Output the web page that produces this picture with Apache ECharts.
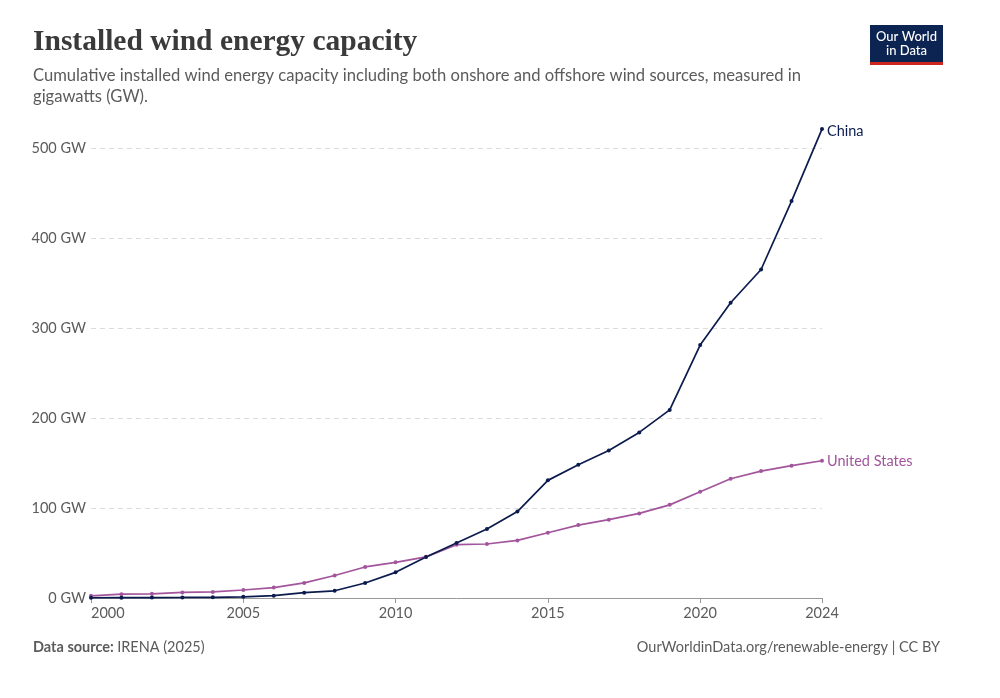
<!DOCTYPE html>
<html>
<head>
<meta charset="utf-8">
<script src="https://cdn.jsdelivr.net/npm/echarts@6/dist/echarts.min.js"></script>
<style>
html,body{margin:0;padding:0;background:#fff;}
#chart{width:1000px;height:698px;}
</style>
</head>
<body>
<div id="chart"></div>
<script>
const years = [2000,2001,2002,2003,2004,2005,2006,2007,2008,2009,2010,2011,2012,2013,2014,2015,2016,2017,2018,2019,2020,2021,2022,2023,2024];
const china = [0.3,0.4,0.5,0.6,0.8,1.3,2.6,5.9,8.0,16.7,28.5,45.5,61,76.7,96,130.7,148,164,184,209,281,328,365,441,521];
const unitedStates = [2.4,4.2,4.6,6.2,6.7,8.9,11.6,16.8,25.0,34.5,39.6,45.7,59.2,60,64,72.5,81,87,94,103.5,118,132.5,141,147,152.5];
const yTicks = [0,100,200,300,400,500];

const chinaColor = '#0b1b4d';
const usColor = '#a2559c';
const font = 'Lato, "Noto Sans", sans-serif';

const chart = echarts.init(document.getElementById('chart'), null, {renderer:'canvas'});
function pairs(arr){ return years.map((y,i)=>[y,arr[i]]); }

chart.setOption({
  animation:false,
  backgroundColor:'#fff',
  grid:{left:91,right:178,top:148,bottom:100,containLabel:false},
  xAxis:{
    type:'value', min:2000, max:2024, interval:5,
    axisLine:{show:true,lineStyle:{color:'#999',width:1}},
    axisTick:{show:true,length:5,lineStyle:{color:'#999'}},
    splitLine:{show:false},
    axisLabel:{color:'#5b5b5b',fontSize:14.5,fontFamily:font,margin:8,
      formatter:v=>String(v), alignMinLabel:'left', showMaxLabel:true}
  },
  yAxis:{
    type:'value', min:0, max:yTicks[yTicks.length-1], interval:100,
    axisLine:{show:false}, axisTick:{show:false},
    splitLine:{show:true,lineStyle:{color:'#dcdcdc',type:[5,4],width:1}},
    axisLabel:{color:'#5b5b5b',fontSize:14.5,fontFamily:font,margin:5,
      formatter:v=>v+' GW'}
  },
  series:[
    {name:'United States',type:'line',data:pairs(unitedStates),clip:false,
     symbol:'circle',symbolSize:4,showSymbol:true,
     lineStyle:{color:usColor,width:1.7},itemStyle:{color:usColor},
     endLabel:{show:true,formatter:'United States',color:usColor,fontSize:14.5,fontFamily:font,distance:5,offset:[0,1]}},
    {name:'China',type:'line',data:pairs(china),clip:false,
     symbol:'circle',symbolSize:4,showSymbol:true,
     lineStyle:{color:chinaColor,width:1.7},itemStyle:{color:chinaColor},
     endLabel:{show:true,formatter:'China',color:chinaColor,fontSize:14.5,fontFamily:font,distance:5,offset:[0,2]}}
  ],
  graphic:[
    {type:'text',left:33,top:27,style:{text:'Installed wind energy capacity',fill:'#3a3a3a',
      font:'bold 29.5px "Liberation Serif", "DejaVu Serif", serif'}},
    {type:'text',left:33,top:65,style:{text:'Cumulative installed wind energy capacity including both onshore and offshore wind sources, measured in\ngigawatts (GW).',
      fill:'#5b5b5b',font:'16.6px '+font,lineHeight:21}},
    {type:'group',left:870,top:25,children:[
      {type:'rect',shape:{x:0,y:0,width:73,height:40},style:{fill:'#0c2451'}},
      {type:'rect',shape:{x:0,y:37,width:73,height:3},style:{fill:'#ce261e'}},
      {type:'text',style:{x:36.5,y:5,text:'Our World\nin Data',fill:'#fff',font:'500 13px '+font,align:'center',lineHeight:14}}
    ]},
    {type:'text',left:33,top:640,style:{
      rich:{b:{fontWeight:'bold',fill:'#5b5b5b',fontSize:14.5,fontFamily:font},n:{fill:'#5b5b5b',fontSize:14.5,fontFamily:font}},
      text:'{b|Data source:} {n|IRENA (2025)}'}},
    {type:'text',right:60,top:640,style:{text:'OurWorldinData.org/renewable-energy | CC BY',fill:'#5b5b5b',font:'14.5px '+font}}
  ]
});
</script>
</body>
</html>
